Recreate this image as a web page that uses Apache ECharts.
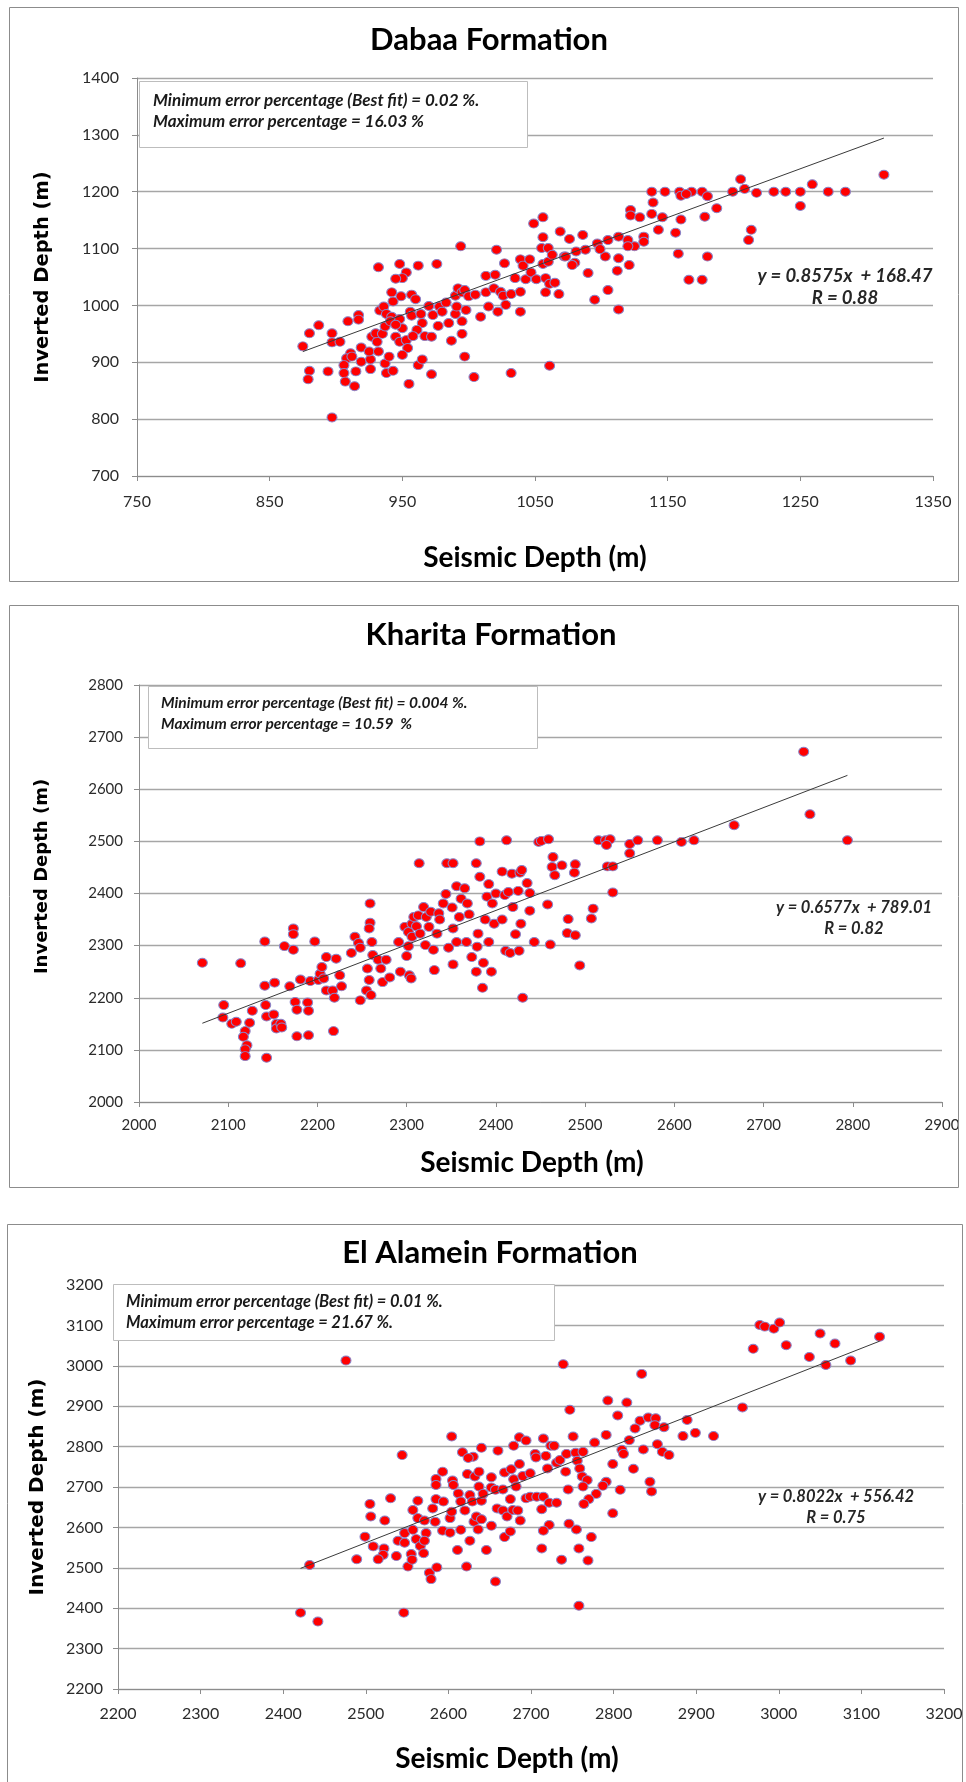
<!DOCTYPE html>
<html>
<head>
<meta charset="utf-8">
<title>Seismic vs Inverted Depth</title>
<script src="https://cdn.jsdelivr.net/npm/echarts@6/dist/echarts.min.js"></script>
<style>
  html, body { margin: 0; padding: 0; background: #ffffff; }
  #chart { width: 966px; height: 1782px; }
</style>
</head>
<body>
<div id="chart"></div>
<script>
// ---------- Dabaa Formation ----------
const dabaaSeismic = [
  875, 880, 887, 880, 879, 894, 897, 897, 903, 897,
  909, 917, 917, 911, 908, 906, 906, 907, 914, 915,
  912, 919, 919, 926, 926, 925, 927, 931, 932, 930,
  935, 937, 937, 938, 940, 943, 932, 933, 936, 938,
  942, 941, 942, 943, 948, 953, 950, 945, 949, 957,
  960, 956, 957, 948, 950, 945, 945, 948, 953, 954,
  950, 955, 962, 965, 972, 962, 976, 970, 964, 965,
  961, 958, 967, 972, 973, 977, 978, 983, 980, 985,
  987, 990, 991, 990, 992, 994, 995, 997, 1000, 998,
  995, 995, 997, 1004, 1005, 1009, 1013, 1013, 1015, 1019,
  1021, 1022, 1020, 1024, 1026, 1027, 1028, 1032, 1032, 1035,
  1039, 1039, 1039, 1041, 1043, 1046, 1049, 1056, 1056, 1055,
  1060, 1047, 1051, 1056, 1060, 1063, 1058, 1061, 1065, 1058,
  1068, 1069, 1061, 1072, 1138, 1148, 1159, 1168, 1176, 1160,
  1180, 1164, 1199, 1205, 1208, 1217, 1230, 1239, 1250, 1259,
  1250, 1271, 1284, 1313, 1139, 1138, 1146, 1122, 1122, 1129,
  1143, 1160, 1156, 1178, 1187, 1158, 1166, 1176, 1180, 1213,
  1211, 1132, 1132, 1125, 1120, 1120, 1121, 1113, 1112, 1113,
  1113, 1105, 1103, 1097, 1099, 1105, 1095, 1090, 1086, 1088,
  1080, 1078, 1076, 1073, 1081
];
const dabaaInverted = [
  928, 951, 965, 885, 870, 884, 951, 935, 936, 803,
  972, 983, 975, 916, 907, 895, 881, 866, 858, 884,
  910, 926, 901, 888, 905, 919, 945, 936, 919, 951,
  950, 963, 898, 881, 910, 885, 1067, 991, 998, 985,
  980, 972, 1023, 1007, 1073, 1058, 1048, 1047, 1016, 1019,
  1011, 989, 982, 976, 960, 966, 945, 936, 939, 925,
  913, 862, 895, 905, 879, 1070, 1073, 999, 985, 969,
  957, 946, 946, 945, 983, 964, 998, 1005, 989, 969,
  938, 985, 998, 1017, 1030, 1104, 1023, 1027, 1016, 992,
  972, 950, 910, 874, 1019, 980, 1023, 1052, 998, 1030,
  1098, 989, 1054, 1024, 1017, 1074, 1001, 881, 1020, 1048,
  1024, 989, 1081, 1070, 1046, 1081, 1144, 1155, 1120, 1101,
  1101, 1058, 1046, 1073, 1077, 1089, 1048, 1038, 1040, 1023,
  1020, 1130, 894, 1086, 1200, 1200, 1200, 1200, 1200, 1193,
  1192, 1196, 1200, 1222, 1205, 1198, 1200, 1200, 1200, 1213,
  1175, 1200, 1200, 1230, 1181, 1161, 1155, 1168, 1158, 1155,
  1133, 1151, 1128, 1156, 1171, 1091, 1045, 1045, 1086, 1133,
  1115, 1121, 1112, 1104, 1115, 1104, 1071, 1083, 1061, 1121,
  993, 1115, 1086, 1109, 1099, 1027, 1010, 1057, 1124, 1098,
  1075, 1071, 1117, 1086, 1095
];
const dabaaXTicks = [750, 850, 950, 1050, 1150, 1250, 1350];
const dabaaYTicks = [700, 800, 900, 1000, 1100, 1200, 1300, 1400];
const dabaaSlope = 0.8575;
const dabaaIntercept = 168.47;
const dabaaR = '0.88';
const dabaaNotes = [
  'Minimum error percentage (Best fit) = 0.02 %.',
  'Maximum error percentage = 16.03 %'
];

// ---------- Kharita Formation ----------
const kharitaSeismic = [
  2071, 2095, 2094, 2104, 2109, 2114, 2119, 2117, 2121, 2119,
  2119, 2124, 2127, 2141, 2141, 2142, 2143, 2143, 2152, 2151,
  2154, 2154, 2159, 2160, 2163, 2169, 2173, 2173, 2173, 2175,
  2177, 2177, 2181, 2189, 2190, 2190, 2192, 2197, 2201, 2203,
  2205, 2207, 2210, 2210, 2217, 2219, 2218, 2221, 2225, 2227,
  2238, 2242, 2246, 2248, 2248, 2255, 2256, 2258, 2260, 2259,
  2259, 2258, 2261, 2262, 2268, 2271, 2273, 2277, 2281, 2291,
  2293, 2300, 2302, 2303, 2305, 2298, 2302, 2306, 2308, 2313,
  2311, 2306, 2314, 2315, 2319, 2321, 2322, 2325, 2327, 2330,
  2331, 2336, 2334, 2337, 2341, 2344, 2345, 2352, 2351, 2352,
  2352, 2356, 2359, 2361, 2356, 2347, 2365, 2368, 2370, 2367,
  2373, 2378, 2382, 2382, 2378, 2380, 2379, 2386, 2385, 2388,
  2390, 2392, 2392, 2395, 2396, 2398, 2400, 2407, 2407, 2411,
  2412, 2410, 2414, 2416, 2418, 2419, 2422, 2425, 2427, 2429,
  2426, 2428, 2430, 2435, 2438, 2438, 2443, 2448, 2451, 2459,
  2464, 2463, 2474, 2466, 2458, 2461, 2481, 2480, 2489, 2489,
  2488, 2494, 2509, 2507, 2515, 2523, 2528, 2524, 2525, 2531,
  2531, 2550, 2550, 2559, 2581, 2608, 2622, 2667, 2745, 2752,
  2794
];
const kharitaInverted = [
  2267, 2186, 2162, 2150, 2154, 2266, 2136, 2125, 2109, 2101,
  2088, 2152, 2175, 2308, 2223, 2186, 2164, 2085, 2229, 2168,
  2150, 2141, 2150, 2143, 2299, 2222, 2333, 2322, 2292, 2192,
  2177, 2126, 2235, 2191, 2175, 2128, 2232, 2308, 2234, 2246,
  2259, 2237, 2278, 2214, 2214, 2200, 2136, 2275, 2243, 2222,
  2286, 2317, 2305, 2195, 2296, 2214, 2256, 2234, 2205, 2381,
  2344, 2333, 2307, 2282, 2273, 2256, 2230, 2273, 2239, 2307,
  2250, 2280, 2299, 2243, 2237, 2336, 2326, 2342, 2355, 2358,
  2337, 2317, 2458, 2323, 2374, 2301, 2355, 2336, 2365, 2292,
  2253, 2362, 2323, 2350, 2381, 2399, 2458, 2458, 2373, 2333,
  2264, 2414, 2355, 2390, 2307, 2296, 2410, 2381, 2360, 2307,
  2278, 2458, 2432, 2500, 2250, 2323, 2298, 2267, 2219, 2350,
  2394, 2418, 2307, 2250, 2381, 2342, 2400, 2442, 2350, 2290,
  2502, 2397, 2403, 2286, 2438, 2374, 2322, 2405, 2440, 2445,
  2290, 2342, 2200, 2420, 2367, 2401, 2307, 2499, 2501, 2504,
  2470, 2451, 2454, 2435, 2379, 2302, 2351, 2324, 2320, 2456,
  2440, 2262, 2371, 2352, 2502, 2502, 2504, 2493, 2452, 2452,
  2402, 2495, 2477, 2502, 2502, 2499, 2502, 2531, 2672, 2552,
  2502
];
const kharitaXTicks = [2000, 2100, 2200, 2300, 2400, 2500, 2600, 2700, 2800, 2900];
const kharitaYTicks = [2000, 2100, 2200, 2300, 2400, 2500, 2600, 2700, 2800];
const kharitaSlope = 0.6577;
const kharitaIntercept = 789.01;
const kharitaR = '0.82';
const kharitaNotes = [
  'Minimum error percentage (Best fit) = 0.004 %.',
  'Maximum error percentage = 10.59  %'
];

// ---------- El Alamein Formation ----------
const alameinSeismic = [
  2476, 2739, 2747, 2793, 2816, 2805, 2604, 2544, 2640, 2617,
  2630, 2624, 2660, 2679, 2686, 2694, 2715, 2724, 2728, 2751,
  2777, 2791, 2819, 2593, 2585, 2585, 2605, 2606, 2623, 2632,
  2637, 2637, 2652, 2652, 2668, 2676, 2686, 2679, 2682, 2690,
  2699, 2705, 2706, 2718, 2720, 2731, 2735, 2743, 2742, 2745,
  2754, 2756, 2763, 2759, 2762, 2768, 2763, 2799, 2810, 2812,
  2791, 2787, 2808, 2779, 2770, 2764, 2799, 2773, 2758, 2769,
  2737, 2755, 2746, 2758, 2505, 2506, 2530, 2523, 2499, 2509,
  2522, 2521, 2515, 2489, 2432, 2421, 2442, 2546, 2537, 2539,
  2547, 2547, 2551, 2555, 2556, 2557, 2557, 2563, 2561, 2566,
  2570, 2573, 2571, 2563, 2571, 2581, 2584, 2585, 2577, 2579,
  2586, 2593, 2594, 2602, 2602, 2604, 2611, 2612, 2615, 2615,
  2620, 2622, 2626, 2626, 2629, 2631, 2634, 2636, 2640, 2642,
  2640, 2646, 2652, 2657, 2657, 2659, 2666, 2666, 2668, 2671,
  2675, 2675, 2678, 2684, 2687, 2694, 2699, 2707, 2713, 2715,
  2722, 2731, 2722, 2715, 2713, 2834, 2832, 2842, 2851, 2850,
  2861, 2826, 2836, 2853, 2859, 2867, 2824, 2844, 2846, 2884,
  2889, 2899, 2921, 2956, 2969, 2977, 2983, 2994, 3001, 3009,
  3037, 3050, 3057, 3068, 3087, 3122
];
const alameinInverted = [
  3013, 3004, 2891, 2914, 2909, 2877, 2825, 2779, 2797, 2786,
  2775, 2772, 2790, 2802, 2823, 2815, 2820, 2802, 2802, 2825,
  2810, 2829, 2816, 2738, 2720, 2705, 2716, 2705, 2732, 2726,
  2738, 2701, 2724, 2699, 2736, 2744, 2757, 2719, 2701, 2727,
  2734, 2782, 2773, 2777, 2746, 2760, 2767, 2782, 2738, 2694,
  2785, 2765, 2787, 2746, 2726, 2717, 2701, 2757, 2792, 2782,
  2713, 2703, 2693, 2683, 2670, 2658, 2635, 2576, 2548, 2518,
  2520, 2595, 2609, 2406, 2658, 2627, 2672, 2617, 2577, 2553,
  2548, 2532, 2521, 2521, 2507, 2389, 2367, 2389, 2529, 2567,
  2586, 2562, 2503, 2534, 2520, 2594, 2643, 2666, 2571, 2554,
  2536, 2586, 2567, 2623, 2617, 2647, 2614, 2670, 2488, 2472,
  2501, 2592, 2664, 2623, 2587, 2639, 2544, 2684, 2594, 2664,
  2642, 2503, 2680, 2567, 2664, 2614, 2627, 2595, 2666, 2683,
  2620, 2544, 2604, 2466, 2693, 2647, 2694, 2642, 2576, 2627,
  2590, 2670, 2643, 2642, 2617, 2672, 2676, 2676, 2645, 2676,
  2661, 2661, 2606, 2592, 2548, 2980, 2864, 2872, 2870, 2853,
  2848, 2845, 2793, 2806, 2787, 2779, 2745, 2713, 2689, 2826,
  2866, 2834, 2826, 2897, 3042, 3101, 3097, 3092, 3107, 3051,
  3022, 3080, 3002, 3055, 3013, 3072
];
const alameinXTicks = [2200, 2300, 2400, 2500, 2600, 2700, 2800, 2900, 3000, 3100, 3200];
const alameinYTicks = [2200, 2300, 2400, 2500, 2600, 2700, 2800, 2900, 3000, 3100, 3200];
const alameinSlope = 0.8022;
const alameinIntercept = 556.42;
const alameinR = '0.75';
const alameinNotes = [
  'Minimum error percentage (Best fit) = 0.01 %.',
  'Maximum error percentage = 21.67 %.'
];

// ---------- page layout (pixels) ----------
const panels = [
  {
    title: 'Dabaa Formation', xs: dabaaSeismic, ys: dabaaInverted,
    xTicks: dabaaXTicks, yTicks: dabaaYTicks,
    slope: dabaaSlope, intercept: dabaaIntercept, r: dabaaR, notes: dabaaNotes,
    frame: [9, 7, 949, 574], titleAt: [489, 40],
    grid: { left: 137, top: 78, width: 796, height: 398 },
    yNameGap: 84, yNamePad: [0, 0, 0, 0], yNameSize: 19.5,
    xNameGap: 68, xNamePad: [0, 0, 0, 0],
    yLabelMargin: 18, xLabelMargin: 18, tickSize: 16,
    box: [139, 81, 388, 66], noteX: 153, noteY: [101, 122], noteSize: 17,
    eqAt: [845, 276, 298], eqSize: 18.5
  },
  {
    title: 'Kharita Formation', xs: kharitaSeismic, ys: kharitaInverted,
    xTicks: kharitaXTicks, yTicks: kharitaYTicks,
    slope: kharitaSlope, intercept: kharitaIntercept, r: kharitaR, notes: kharitaNotes,
    frame: [9, 605, 949, 582], titleAt: [491, 635],
    grid: { left: 139, top: 685, width: 803, height: 417 },
    yNameGap: 88, yNamePad: [0, 0, 0, 34], yNameSize: 18,
    xNameGap: 47, xNamePad: [0, 17, 0, 0],
    yLabelMargin: 16, xLabelMargin: 16, tickSize: 15,
    box: [148, 686, 389, 62], noteX: 161, noteY: [703, 724], noteSize: 15.5,
    eqAt: [854, 908, 929], eqSize: 16.5
  },
  {
    title: 'El Alamein Formation', xs: alameinSeismic, ys: alameinInverted,
    xTicks: alameinXTicks, yTicks: alameinYTicks,
    slope: alameinSlope, intercept: alameinIntercept, r: alameinR, notes: alameinNotes,
    frame: [7, 1224, 955, 600], titleAt: [490, 1253],
    grid: { left: 118, top: 1285, width: 826, height: 404 },
    yNameGap: 70, yNamePad: [0, 0, 0, 0], yNameSize: 20,
    xNameGap: 56, xNamePad: [0, 48, 0, 0],
    yLabelMargin: 15, xLabelMargin: 17, tickSize: 16,
    box: [113, 1284, 441, 56], noteX: 126, noteY: [1302, 1323], noteSize: 16.5,
    eqAt: [836, 1497, 1518], eqSize: 16.5
  }
];

const AXIS_GREY = '#8c8c8c';
const GRID_GREY = '#a6a6a6';
const CAL = 'Lato, "Open Sans", sans-serif';
const plain = v => String(v);

const grids = [], xAxes = [], yAxes = [], series = [], graphics = [];

panels.forEach((p, i) => {
  grids.push(p.grid);

  xAxes.push({
    gridIndex: i, type: 'value',
    min: p.xTicks[0], max: p.xTicks[p.xTicks.length - 1],
    axisLine: { show: true, lineStyle: { color: AXIS_GREY, width: 1 } },
    axisTick: { show: true, inside: false, length: 5, customValues: p.xTicks,
                lineStyle: { color: AXIS_GREY } },
    axisLabel: { customValues: p.xTicks, formatter: plain, margin: p.xLabelMargin,
                 color: '#2b2b2b', fontFamily: CAL, fontSize: p.tickSize },
    splitLine: { show: false },
    name: 'Seismic Depth (m)', nameLocation: 'middle', nameGap: p.xNameGap,
    nameTextStyle: { fontFamily: CAL, fontWeight: 'bold', fontSize: 28, color: '#000',
                     padding: p.xNamePad }
  });

  yAxes.push({
    gridIndex: i, type: 'value',
    min: p.yTicks[0], max: p.yTicks[p.yTicks.length - 1],
    interval: p.yTicks[1] - p.yTicks[0],
    axisLine: { show: true, lineStyle: { color: AXIS_GREY, width: 1 } },
    axisTick: { show: true, inside: false, length: 5, lineStyle: { color: AXIS_GREY } },
    axisLabel: { formatter: plain, margin: p.yLabelMargin, color: '#2b2b2b',
                 fontFamily: CAL, fontSize: p.tickSize },
    splitLine: { show: true, lineStyle: { color: GRID_GREY, width: 1.3 } },
    name: 'Inverted Depth (m)', nameLocation: 'middle', nameRotate: 90, nameGap: p.yNameGap,
    nameTextStyle: { fontFamily: '"DejaVu Sans", Verdana, sans-serif', fontWeight: 'bold',
                     fontSize: p.yNameSize, color: '#000', padding: p.yNamePad }
  });

  series.push({
    type: 'scatter', xAxisIndex: i, yAxisIndex: i,
    data: p.xs.map((x, k) => [x, p.ys[k]]),
    symbol: 'circle', symbolSize: [10, 9],
    itemStyle: { color: '#ff0000', borderColor: '#8a84c8', borderWidth: 1, opacity: 1 },
    z: 3
  });

  // least-squares trend line over the sampled seismic range
  const xMin = Math.min(...p.xs), xMax = Math.max(...p.xs);
  series.push({
    type: 'line', xAxisIndex: i, yAxisIndex: i,
    data: [[xMin, p.slope * xMin + p.intercept], [xMax, p.slope * xMax + p.intercept]],
    symbol: 'none', silent: true,
    lineStyle: { color: '#3a3a3a', width: 1 },
    z: 4
  });

  // outer frame of the panel
  graphics.push({
    type: 'rect', z: 1, silent: true,
    shape: { x: p.frame[0] + 0.5, y: p.frame[1] + 0.5, width: p.frame[2], height: p.frame[3] },
    style: { fill: 'none', stroke: '#8c8c8c', lineWidth: 1 }
  });
  // panel title
  graphics.push({
    type: 'text', z: 20, silent: true, x: p.titleAt[0], y: p.titleAt[1],
    style: { text: p.title, fill: '#000', fontFamily: CAL, fontWeight: 'bold', fontSize: 31,
             align: 'center', verticalAlign: 'middle' }
  });
  // error-percentage note box
  graphics.push({
    type: 'rect', z: 20, silent: true,
    shape: { x: p.box[0] + 0.5, y: p.box[1] + 0.5, width: p.box[2], height: p.box[3] },
    style: { fill: '#ffffff', stroke: '#bdbdbd', lineWidth: 1 }
  });
  p.notes.forEach((line, k) => {
    graphics.push({
      type: 'text', z: 21, silent: true, x: p.noteX, y: p.noteY[k],
      style: { text: line, fill: '#1a1a1a', fontFamily: CAL, fontStyle: 'italic',
               fontWeight: 'bold', fontSize: p.noteSize, align: 'left', verticalAlign: 'middle' }
    });
  });
  // regression equation and correlation
  const eqLines = ['y = ' + p.slope + 'x  + ' + p.intercept, 'R = ' + p.r];
  eqLines.forEach((line, k) => {
    graphics.push({
      type: 'text', z: 21, silent: true, x: p.eqAt[0], y: p.eqAt[k + 1],
      style: { text: line, fill: '#262626', fontFamily: CAL, fontStyle: 'italic',
               fontWeight: 'bold', fontSize: p.eqSize, align: 'center', verticalAlign: 'middle' }
    });
  });
});

const chart = echarts.init(document.getElementById('chart'), null, { renderer: 'canvas' });
chart.setOption({
  animation: false,
  backgroundColor: '#ffffff',
  grid: grids,
  xAxis: xAxes,
  yAxis: yAxes,
  series: series,
  graphic: { elements: graphics }
});
</script>
</body>
</html>
